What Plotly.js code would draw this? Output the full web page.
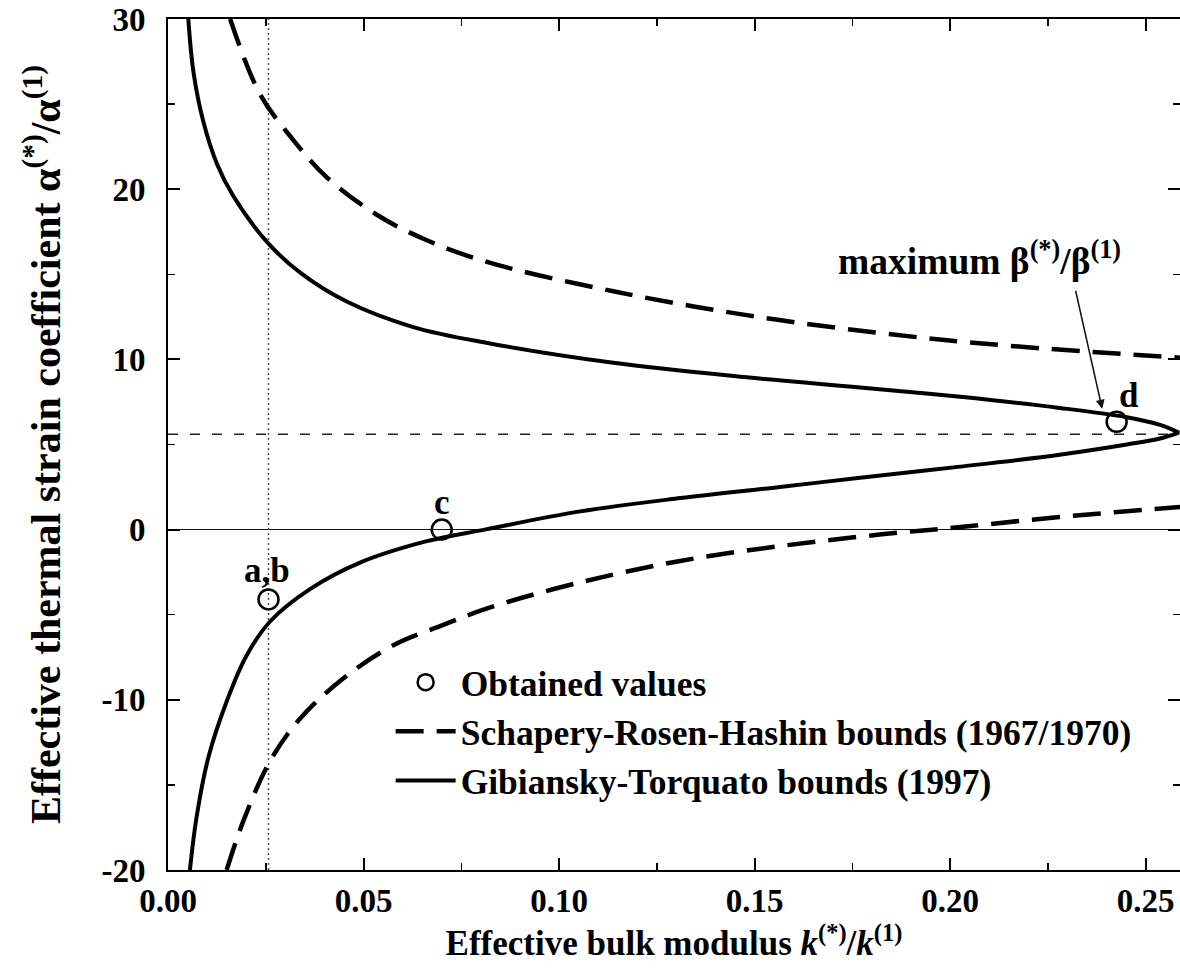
<!DOCTYPE html>
<html>
<head>
<meta charset="utf-8">
<script src="https://cdn.plot.ly/plotly-3.0.1.min.js"></script>
<style>html,body{margin:0;padding:0;background:#fff;}#chart{width:1180px;height:969px;}</style>
</head>
<body>
<div id="chart"></div>
<script>
// Gibiansky-Torquato bounds (1997): upper and lower branches
const gtUpperX = [0.0052, 0.0065, 0.009, 0.0125, 0.0167, 0.0257, 0.0338, 0.0457, 0.0627, 0.082, 0.1139, 0.148, 0.177, 0.2026, 0.228, 0.2452, 0.2537, 0.2585];
const gtUpperY = [30, 26.9, 24.0, 21.5, 19.6, 16.8, 15.1, 13.4, 11.9, 10.95, 9.8, 8.95, 8.35, 7.8, 7.15, 6.6, 6.15, 5.7];
const gtLowerX = [0.0056, 0.0073, 0.0103, 0.015, 0.0201, 0.0261, 0.0363, 0.0491, 0.0662, 0.081, 0.1054, 0.131, 0.1565, 0.177, 0.2026, 0.228, 0.2452, 0.2537, 0.2585];
const gtLowerY = [-20, -16.9, -13.4, -10.1, -7.4, -5.4, -3.5, -1.94, -0.68, 0.0, 1.07, 1.85, 2.5, 3.05, 3.7, 4.4, 5.0, 5.35, 5.7];

// Schapery-Rosen-Hashin bounds (1967/1970)
const srhUpperX = [0.0159, 0.0235, 0.032, 0.0406, 0.0534, 0.0662, 0.082, 0.1139, 0.148, 0.182, 0.215, 0.259];
const srhUpperY = [30, 25.6, 22.9, 20.7, 18.5, 17.0, 15.7, 14.0, 12.6, 11.55, 10.8, 10.1];
const srhLowerX = [0.015, 0.0193, 0.0261, 0.0338, 0.0448, 0.0576, 0.0704, 0.082, 0.1054, 0.131, 0.1565, 0.182, 0.2026, 0.228, 0.259];
const srhLowerY = [-20, -17.1, -13.6, -11.1, -8.75, -6.8, -5.6, -4.6, -3.1, -1.84, -0.97, -0.29, 0.15, 0.74, 1.33];

// Obtained values
const pointLabels = ["a,b", "c", "d"];
const pointX = [0.0257, 0.0700, 0.2426];
const pointY = [-4.1, 0.0, 6.34];

// Reference levels
const maxBetaLevel = 5.6;      // alpha at maximum beta
const abModulus = 0.0257;      // k of points a,b

// Axes
const xRange = [0, 0.2588];
const yRange = [-20, 30];
const xTickVals = [0, 0.05, 0.10, 0.15, 0.20, 0.25];
const xTickText = ["0.00", "0.05", "0.10", "0.15", "0.20", "0.25"];
const yTickVals = [-20, -10, 0, 10, 20, 30];
const yTickText = ["-20", "-10", "0", "10", "20", "30"];

const FONT = "Liberation Serif, Times New Roman, serif";
const BOLD = 'bold';

const gtX = gtUpperX.concat(gtLowerX.slice().reverse());
const gtY = gtUpperY.concat(gtLowerY.slice().reverse());

const data = [
  { x: xRange, y: [maxBetaLevel, maxBetaLevel], mode: 'lines', showlegend: false, hoverinfo: 'skip',
    line: { color: '#222', width: 1.5, dash: '10px,12px' } },
  { x: [abModulus, abModulus], y: yRange, mode: 'lines', showlegend: false, hoverinfo: 'skip',
    line: { color: '#555', width: 1.5, dash: '2px,3px' } },
  { x: srhUpperX, y: srhUpperY, mode: 'lines', name: 'Schapery-Rosen-Hashin bounds (1967/1970)',
    legendgroup: 'srh', legendrank: 2, line: { color: '#000', width: 4.5, dash: '28px,13px', shape: 'spline', smoothing: 1 } },
  { x: srhLowerX, y: srhLowerY, mode: 'lines', name: 'Schapery-Rosen-Hashin bounds (1967/1970)',
    legendgroup: 'srh', showlegend: false, line: { color: '#000', width: 4.5, dash: '28px,13px', shape: 'spline', smoothing: 1 } },
  { x: gtX, y: gtY, mode: 'lines', name: 'Gibiansky-Torquato bounds (1997)', legendrank: 3,
    line: { color: '#000', width: 4, shape: 'spline', smoothing: 1 } },
  { x: pointX, y: pointY, mode: 'markers', name: 'Obtained values', legendrank: 1,
    marker: { symbol: 'circle-open', size: 20, color: '#000', line: { width: 2.5, color: '#000' } } }
];

const txtFont = { family: FONT, size: 35, color: '#000', weight: BOLD };
const annotations = [
  { x: pointX[0], y: pointY[0], text: pointLabels[0], showarrow: false, yshift: 29, xshift: -2, font: txtFont },
  { x: pointX[1], y: pointY[1], text: pointLabels[1], showarrow: false, yshift: 27, xshift: 0, font: txtFont },
  { x: pointX[2], y: pointY[2], text: pointLabels[2], showarrow: false, yshift: 26, xshift: 12, font: txtFont },
  { x: 0.2074, y: 15.9, text: 'maximum β<sup>(*)</sup>/β<sup>(1)</sup>', showarrow: false,
    font: { family: FONT, size: 37.5, color: '#000', weight: BOLD } },
  { x: 0.2389, y: 7.1, text: ' ', showarrow: true, ax: -27, ay: -120, arrowhead: 2, arrowsize: 1.2,
    arrowwidth: 1.5, arrowcolor: '#111', standoff: 0, font: { family: FONT, size: 1, color: '#000' } }
].map(a => Object.assign({ xref: 'x', yref: 'y' }, a));

const axisCommon = {
  showgrid: false, showline: true, linecolor: '#000', linewidth: 2, mirror: 'allticks',
  ticks: 'inside', ticklen: 12, tickwidth: 2, tickcolor: '#000',
  tickfont: { family: FONT, size: 33, color: '#000', weight: BOLD }
};

const layout = {
  width: 1180, height: 969,
  margin: { l: 168, r: 0, t: 19, b: 99 },
  paper_bgcolor: '#fff', plot_bgcolor: '#fff',
  font: { family: FONT, color: '#000' },
  showlegend: true,
  legend: { x: 0.22, y: 0.2555, xanchor: 'left', yanchor: 'top', bgcolor: 'rgba(0,0,0,0)',
    font: { family: FONT, size: 35.5, color: '#000', weight: BOLD }, itemwidth: 60, tracegroupgap: 0 },
  xaxis: Object.assign({}, axisCommon, {
    range: xRange, tickvals: xTickVals, ticktext: xTickText, ticklabelstandoff: 0,
    minor: { dtick: 0.025, ticks: 'inside', ticklen: 7, tickwidth: 1.5, tickcolor: '#000', showgrid: false },
    zeroline: false,
    title: { text: 'Effective bulk modulus <i>k</i><sup>(*)</sup>/<i>k</i><sup>(1)</sup>', standoff: 0,
      font: { family: FONT, size: 35, color: '#000', weight: BOLD } }
  }),
  yaxis: Object.assign({}, axisCommon, {
    range: yRange, tickvals: yTickVals, ticktext: yTickText, ticklabelstandoff: 14,
    minor: { dtick: 5, tick0: 0, ticks: 'inside', ticklen: 7, tickwidth: 1.5, tickcolor: '#000', showgrid: false },
    zeroline: true, zerolinecolor: '#111', zerolinewidth: 1.5,
    title: { text: 'Effective thermal strain coefficient α<sup>(*)</sup>/α<sup>(1)</sup>', standoff: 28,
      font: { family: FONT, size: 42, color: '#000', weight: BOLD } }
  }),
  annotations: annotations
};

Plotly.newPlot('chart', data, layout, { staticPlot: true });
</script>
</body>
</html>
